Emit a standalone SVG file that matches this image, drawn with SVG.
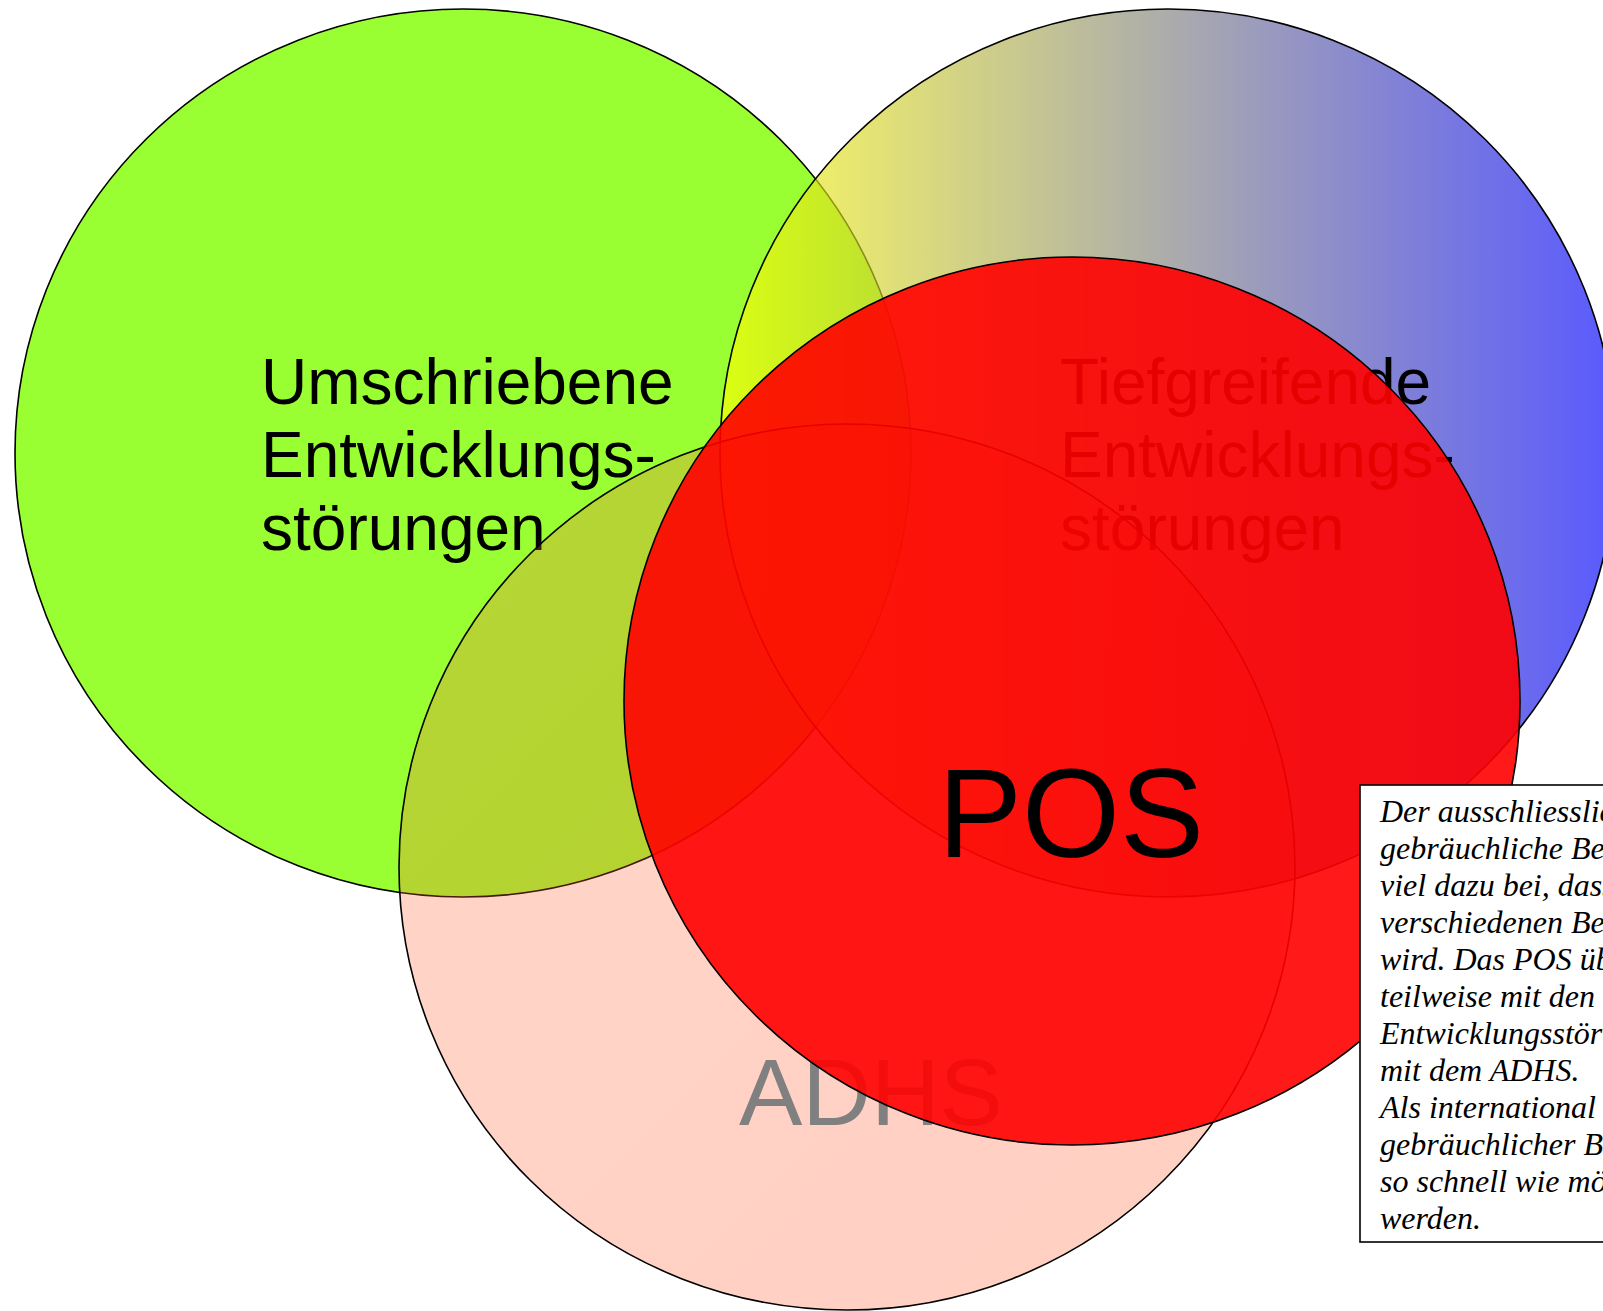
<svg xmlns="http://www.w3.org/2000/svg" width="1603" height="1311" viewBox="0 0 1603 1311">
<style>
.outline{stroke:#000;stroke-width:1.6}
.label{font-family:"Liberation Sans",Arial,sans-serif;font-size:64px;fill:#000}
.note{font-family:"Liberation Serif","Times New Roman",serif;font-style:italic;font-size:32px;fill:#000}
</style>
<defs>
<linearGradient id="gradTief" gradientUnits="userSpaceOnUse" x1="720" y1="0" x2="1616" y2="0">
<stop offset="0" stop-color="#ffff00"/>
<stop offset="1" stop-color="#0000ff"/>
</linearGradient>
<linearGradient id="gradAdhs" gradientUnits="userSpaceOnUse" x1="399" y1="424" x2="1296" y2="1311">
<stop offset="0" stop-color="#ff6a3a"/>
<stop offset="1" stop-color="#ff4a1a"/>
</linearGradient>
</defs>
<rect width="1603" height="1311" fill="#fff"/>
<g id="node-umschriebene">
<ellipse class="outline" cx="463" cy="453" rx="448" ry="444" fill="#99ff33"/>
<text class="label" x="261" y="404">Umschriebene</text>
<text class="label" x="261" y="477">Entwicklungs-</text>
<text class="label" x="261" y="550">störungen</text>
</g>
<g id="node-tiefgreifende">
<ellipse class="outline" cx="1168" cy="453" rx="448" ry="444" fill="url(#gradTief)" fill-opacity="0.65"/>
<text class="label" x="1060" y="404">Tiefgreifende</text>
<text class="label" x="1060" y="477">Entwicklungs-</text>
<text class="label" x="1060" y="550">störungen</text>
</g>
<g id="node-adhs">
<ellipse class="outline" cx="847" cy="867" rx="448" ry="443" fill="url(#gradAdhs)" fill-opacity="0.27"/>
<text x="739" y="1125" style="font-family:'Liberation Sans',Arial,sans-serif;font-size:95px;fill:#808080">ADHS</text>
</g>
<g id="node-pos">
<ellipse class="outline" cx="1072" cy="701" rx="448" ry="444" fill="#ff0000" fill-opacity="0.9"/>
<text x="938" y="857" style="font-family:'Liberation Sans',Arial,sans-serif;font-size:126px;fill:#000">POS</text>
</g>
<g id="connectors"></g>
<g id="node-note">
<rect x="1360" y="785" width="260" height="457" fill="#fff" stroke="#000" stroke-width="1.6"/>
<text class="note" x="1380" y="822">Der ausschliesslich</text>
<text class="note" x="1380" y="859">gebräuchliche Be</text>
<text class="note" x="1380" y="896">viel dazu bei, dass</text>
<text class="note" x="1380" y="933">verschiedenen Be</text>
<text class="note" x="1380" y="970">wird. Das POS üb</text>
<text class="note" x="1380" y="1007">teilweise mit den</text>
<text class="note" x="1380" y="1044">Entwicklungsstör</text>
<text class="note" x="1380" y="1081">mit dem ADHS.</text>
<text class="note" x="1380" y="1118">Als international</text>
<text class="note" x="1380" y="1155">gebräuchlicher B</text>
<text class="note" x="1380" y="1192">so schnell wie mö</text>
<text class="note" x="1380" y="1229">werden.</text>
</g>
</svg>
